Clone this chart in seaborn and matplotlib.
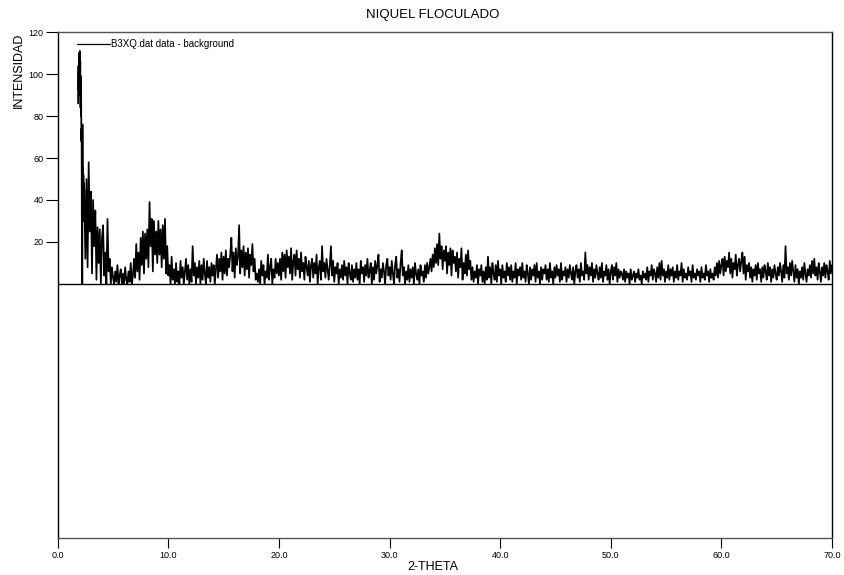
import numpy as np
import pandas as pd
import matplotlib
matplotlib.use("Agg")
import matplotlib.pyplot as plt
import seaborn as sns

# ---------------- text ----------------
title = "NIQUEL FLOCULADO"
x_label = "2-THETA"
y_label = "INTENSIDAD"
series_name = "B3XQ.dat data - background"
x_ticks = [0, 10, 20, 30, 40, 50, 60, 70]
x_tick_labels = ["0.0", "10.0", "20.0", "30.0", "40.0", "50.0", "60.0", "70.0"]
y_ticks = [20, 40, 60, 80, 100, 120]
y_tick_labels = ["20", "40", "60", "80", "100", "120"]

# ---------------- data ----------------
# low-angle peak (fine step)
peak_2theta = [1.84, 1.86, 1.88, 1.90, 1.92, 1.94, 1.96, 1.98, 2.00, 2.02, 2.04,
               2.06, 2.08, 2.10, 2.12, 2.14, 2.16, 2.18, 2.20, 2.22, 2.24,
               2.26, 2.28, 2.30, 2.32, 2.34, 2.36, 2.38]
peak_int = [86, 100, 104, 92, 110, 97, 108, 90, 111, 95, 106,
            84, 99, 80, 88, 68, 74, 32, 66, 0, 76,
            45, 55, 38, 52, 30, 48, 40]

# main scan, 2-theta from 2.4 to 70.0 in steps of 0.1
scan_start = 2.4
scan_step = 0.1
int_02_10 = [45, 12, 50, 8, 58, 25,
             44, 5, 40, 18, 35, 2, 27, 10, 26, 0,
             22, 28, 4, 15, 0, 31, 6, 12, 0, 8,
             3, 0, 6, 1, 9, 0, 4, 7, 0, 5,
             0, 8, 2, 0, 6, 1, 10, 0, 4, 12,
             3, 19, 6, 15, 2, 22, 9, 25, 5, 24,
             12, 26, 8, 39, 18, 31, 6, 30, 14, 25,
             10, 30, 14, 26, 8, 28, 12, 31, 5, 18]
int_10_20 = [4, 9, 0, 13, 2, 7, 0, 10, 1, 6,
             0, 11, 3, 8, 0, 6, 12, 2, 9, 0,
             7, 1, 18, 4, 10, 0, 8, 3, 11, 0,
             9, 2, 12, 5, 0, 11, 3, 8, 1, 10,
             4, 9, 0, 7, 14, 3, 12, 6, 15, 2,
             13, 5, 16, 4, 12, 8, 14, 22, 6, 15,
             3, 17, 9, 13, 28, 5, 16, 8, 18, 4,
             15, 7, 17, 3, 14, 9, 19, 6, 12, 2,
             5, 1, 7, 0, 11, 4, 9, 0, 6, 3,
             14, 2, 8, 12, 0, 7, 3, 12, 5, 10]
int_20_30 = [4, 12, 2, 15, 6, 14, 3, 16, 8, 13,
             5, 17, 2, 11, 14, 4, 16, 7, 12, 3,
             15, 6, 10, 2, 13, 8, 4, 11, 1, 9,
             12, 3, 10, 5, 14, 0, 8, 11, 2, 18,
             6, 10, 3, 12, 7, 2, 9, 18, 4, 11,
             1, 8, 5, 10, 0, 7, 3, 9, 2, 11,
             4, 8, 0, 10, 5, 2, 9, 1, 7, 3,
             10, 2, 7, 0, 11, 5, 8, 1, 9, 4,
             12, 3, 6, 10, 0, 8, 2, 11, 5, 9,
             14, 1, 7, 3, 10, 6, 0, 9, 12, 4]
int_30_40 = [8, 2, 11, 5, 0, 9, 13, 3, 7, 1,
             10, 16, 4, 8, 0, 6, 2, 9, 1, 7,
             3, 8, 0, 10, 5, 2, 7, 0, 9, 4,
             6, 1, 9, 3, 10, 5, 8, 12, 6, 14,
             8, 17, 10, 19, 9, 24, 12, 18, 7, 16,
             11, 18, 5, 15, 9, 17, 4, 16, 10, 13,
             6, 15, 3, 12, 8, 17, 2, 10, 5, 14,
             4, 16, 7, 11, 2, 8, 1, 6, 3, 9,
             0, 7, 4, 9, 1, 6, 0, 8, 2, 13,
             3, 8, 0, 10, 5, 2, 9, 1, 11, 4]
int_40_50 = [7, 0, 9, 3, 6, 1, 10, 4, 8, 2,
             9, 1, 6, 3, 10, 0, 7, 4, 8, 2,
             10, 3, 6, 1, 9, 5, 0, 8, 2, 7,
             4, 9, 1, 10, 3, 6, 0, 8, 2, 7,
             5, 9, 2, 7, 1, 10, 3, 6, 0, 8,
             3, 9, 4, 7, 1, 10, 2, 6, 4, 8,
             1, 7, 3, 9, 5, 2, 8, 0, 6, 9,
             3, 7, 1, 10, 4, 6, 2, 15, 5, 9,
             2, 8, 4, 10, 1, 7, 3, 9, 5, 2,
             8, 3, 10, 1, 6, 4, 9, 2, 7, 0]
int_50_60 = [6, 9, 2, 8, 4, 10, 1, 7, 3, 6,
             5, 2, 7, 1, 6, 3, 5, 0, 7, 2,
             4, 6, 1, 5, 3, 7, 2, 4, 0, 6,
             3, 5, 2, 8, 1, 6, 4, 9, 2, 7,
             5, 1, 8, 3, 10, 2, 11, 4, 7, 1,
             6, 3, 9, 2, 7, 4, 8, 1, 6, 3,
             9, 2, 6, 4, 10, 1, 7, 3, 5, 2,
             8, 4, 6, 1, 9, 3, 5, 2, 7, 4,
             6, 1, 8, 3, 5, 2, 9, 4, 6, 1,
             7, 3, 5, 2, 8, 4, 10, 3, 11, 5]
int_60_70 = [9, 12, 4, 13, 6, 11, 8, 15, 5, 12,
             3, 10, 7, 14, 4, 9, 12, 6, 11, 15,
             5, 13, 2, 9, 6, 10, 3, 8, 1, 7,
             4, 9, 2, 10, 5, 7, 1, 8, 3, 9,
             6, 2, 10, 4, 8, 1, 7, 3, 9, 5,
             2, 8, 4, 10, 6, 1, 9, 3, 18, 5,
             8, 2, 10, 4, 11, 6, 1, 9, 3, 7,
             0, 6, 3, 8, 2, 10, 5, 1, 7, 4,
             9, 3, 11, 5, 12, 4, 8, 2, 10, 6,
             1, 8, 4, 10, 3, 9, 6, 2, 11, 5, 9]

scan_int = (int_02_10 + int_10_20 + int_20_30 + int_30_40
            + int_40_50 + int_50_60 + int_60_70)
scan_2theta = np.round(scan_start + scan_step * np.arange(len(scan_int)), 2)

df = pd.DataFrame({
    "two_theta": np.concatenate([peak_2theta, scan_2theta]),
    "intensity": np.concatenate([peak_int, scan_int]).astype(float),
})

# ---------------- style ----------------
sns.set_style("white")
plt.rcParams["font.family"] = ["Liberation Sans", "DejaVu Sans"]
plt.rcParams["text.color"] = "black"

fig = plt.figure(figsize=(8.45, 5.75), dpi=100)
ax = fig.add_axes([0.0683, 0.0643, 0.9163, 0.8800])

sns.lineplot(data=df, x="two_theta", y="intensity", color="black",
             linewidth=1.25, estimator=None, sort=False, ax=ax,
             label=series_name)
ax.axhline(0, color="black", linewidth=1.0, zorder=1)

ax.set_xlim(0, 70)
ax.set_ylim(-121, 120)

for side in ["left", "right"]:
    ax.spines[side].set_color("black")
    ax.spines[side].set_linewidth(1.0)
for side in ["top", "bottom"]:
    ax.spines[side].set_color("#555555")
    ax.spines[side].set_linewidth(1.0)

ax.set_xticks(x_ticks)
ax.set_xticklabels(x_tick_labels)
ax.set_yticks(y_ticks)
ax.set_yticklabels(y_tick_labels)
ax.tick_params(axis="x", bottom=True, direction="out", length=7, width=0.8,
               pad=2, labelsize=6.5, colors="black")
ax.tick_params(axis="y", left=True, direction="out", length=9, width=0.8,
               pad=1, labelsize=6.5, colors="black")
ax.set_xlabel("")
ax.set_ylabel("")

leg = ax.legend(loc="center left", bbox_to_anchor=(0.0249, 0.976),
                frameon=False, fontsize=7, handlelength=3.35,
                handletextpad=0.17, borderpad=0, borderaxespad=0)
for line in leg.get_lines():
    line.set_linewidth(0.9)
for t in leg.get_texts():
    t.set_color("black")

fig.text(433 / 845, 1 - 15 / 575, title, ha="center", va="center",
         fontsize=9.5, color="black")
fig.text(433 / 845, 1 - 566.5 / 575, x_label, ha="center", va="center",
         fontsize=9, color="black")
fig.text(19 / 845, 1 - 70.5 / 575, y_label, ha="center", va="center",
         rotation=90, fontsize=9, color="black")

fig.savefig("out.png", dpi=100)
